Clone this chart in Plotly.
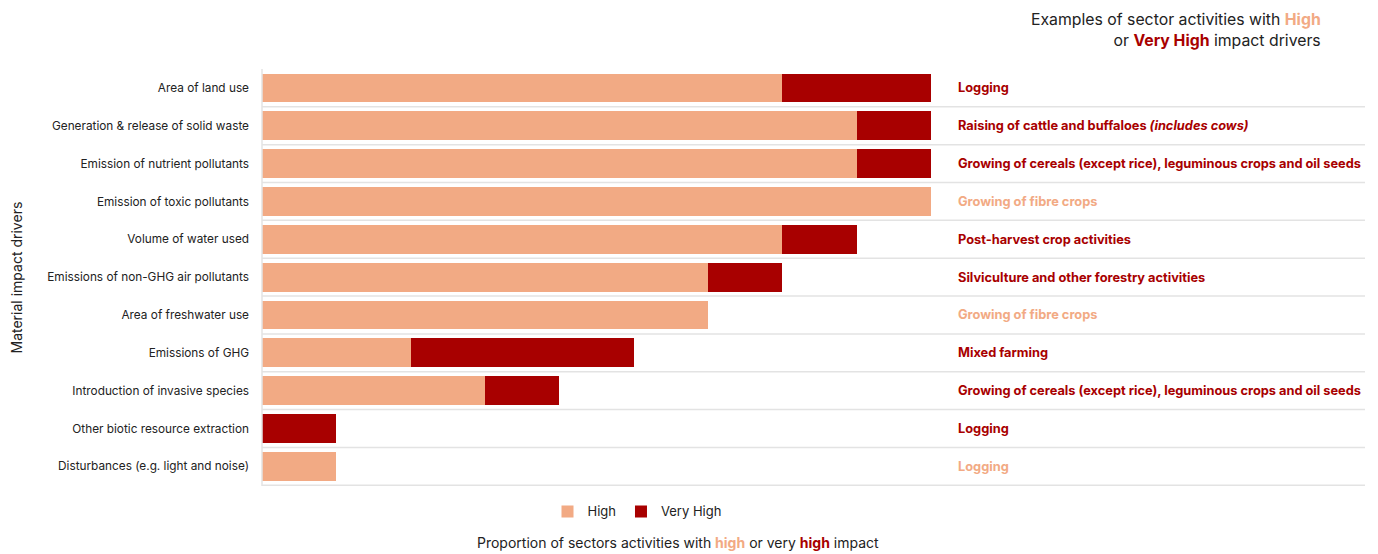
import plotly.graph_objects as go

drivers = [
    "Area of land use",
    "Generation & release of solid waste",
    "Emission of nutrient pollutants",
    "Emission of toxic pollutants",
    "Volume of water used",
    "Emissions of non-GHG air pollutants",
    "Area of freshwater use",
    "Emissions of GHG",
    "Introduction of invasive species",
    "Other biotic resource extraction",
    "Disturbances (e.g. light and noise)",
]
high = [7, 8, 8, 9, 7, 6, 6, 2, 3, 0, 1]
very_high = [2, 1, 1, 0, 1, 1, 0, 3, 1, 1, 0]
examples = [
    "Logging",
    "Raising of cattle and buffaloes <i>(includes cows)</i>",
    "Growing of cereals (except rice), leguminous crops and oil seeds",
    "Growing of fibre crops",
    "Post-harvest crop activities",
    "Silviculture and other forestry activities",
    "Growing of fibre crops",
    "Mixed farming",
    "Growing of cereals (except rice), leguminous crops and oil seeds",
    "Logging",
    "Logging",
]
example_level = ["Very High", "Very High", "Very High", "High", "Very High", "Very High",
                 "High", "Very High", "Very High", "Very High", "High"]
total_sectors = 9

C_HIGH = "#F2AA84"
C_VHIGH = "#A80000"
FONT = "Inter"
level_color = {"High": C_HIGH, "Very High": C_VHIGH}

W, H = 1378, 554
ML, MR, MT, MB = 262, 13, 69, 68
bar_right_px = 931
xmax = total_sectors * (W - ML - MR) / (bar_right_px - ML)

fig = go.Figure()
fig.add_trace(go.Bar(y=drivers, x=high, name="High", orientation="h",
                     marker=dict(color=C_HIGH, line=dict(width=0)), width=0.76))
fig.add_trace(go.Bar(y=drivers, x=very_high, name="Very High", orientation="h",
                     marker=dict(color=C_VHIGH, line=dict(width=0)), width=0.76))

shapes = []
for i in range(len(drivers)):
    shapes.append(dict(type="line", xref="paper", yref="y", x0=0, x1=1,
                       y0=i + 0.5, y1=i + 0.5, line=dict(color="#E3E3E3", width=1.5),
                       layer="below"))
shapes.append(dict(type="line", xref="paper", yref="paper", x0=0, x1=0, y0=0, y1=1,
                   line=dict(color="#E3E3E3", width=1.5)))

ann_x = (956 - ML) / (W - ML - MR)
annotations = []
for d, ex, lvl in zip(drivers, examples, example_level):
    annotations.append(dict(x=ann_x, xref="paper", y=d, yref="y", text="<b>" + ex + "</b>",
                            showarrow=False, xanchor="left", yanchor="middle",
                            font=dict(family=FONT, size=12.8, color=level_color[lvl])))

annotations.append(dict(
    x=(1323 - ML) / (W - ML - MR), xref="paper", y=1, yref="paper", yshift=MT - 8,
    text="Examples of sector activities with <b><span style='color:%s'>High</span></b><br>"
         "or <b><span style='color:%s'>Very High</span></b> impact drivers" % (C_HIGH, C_VHIGH),
    showarrow=False, xanchor="right", yanchor="top", align="right",
    font=dict(family=FONT, size=15.8, color="#222222")))

annotations.append(dict(
    x=(678 - ML) / (W - ML - MR), xref="paper", y=0, yref="paper", yshift=-(542 - (H - MB)),
    text="Proportion of sectors activities with <b><span style='color:%s'>high</span></b> or very "
         "<b><span style='color:%s'>high</span></b> impact" % (C_HIGH, C_VHIGH),
    showarrow=False, xanchor="center", yanchor="middle",
    font=dict(family=FONT, size=14, color="#222222")))

annotations.append(dict(
    x=-(ML - 16) / (W - ML - MR), xref="paper", y=0.5, yref="paper",
    text="Material impact drivers", textangle=-90, showarrow=False,
    xanchor="center", yanchor="middle",
    font=dict(family=FONT, size=14, color="#222222")))

fig.update_layout(
    width=W, height=H,
    margin=dict(l=ML, r=MR, t=MT, b=MB),
    barmode="stack",
    paper_bgcolor="white", plot_bgcolor="white",
    showlegend=True,
    legend=dict(orientation="h", x=(637 - ML) / (W - ML - MR), xanchor="center",
                y=-0.025, yanchor="top", font=dict(family=FONT, size=13, color="#222222"),
                itemwidth=30, traceorder="normal"),
    xaxis=dict(range=[0, xmax], showticklabels=False, showgrid=False, zeroline=False,
               showline=False, ticks=""),
    yaxis=dict(autorange="reversed", showgrid=False, zeroline=False, showline=False,
               ticks="", ticklabelstandoff=12,
               tickfont=dict(family=FONT, size=11.8, color="#222222")),
    shapes=shapes,
    annotations=annotations,
    font=dict(family=FONT),
)

fig.write_html("out.html")
